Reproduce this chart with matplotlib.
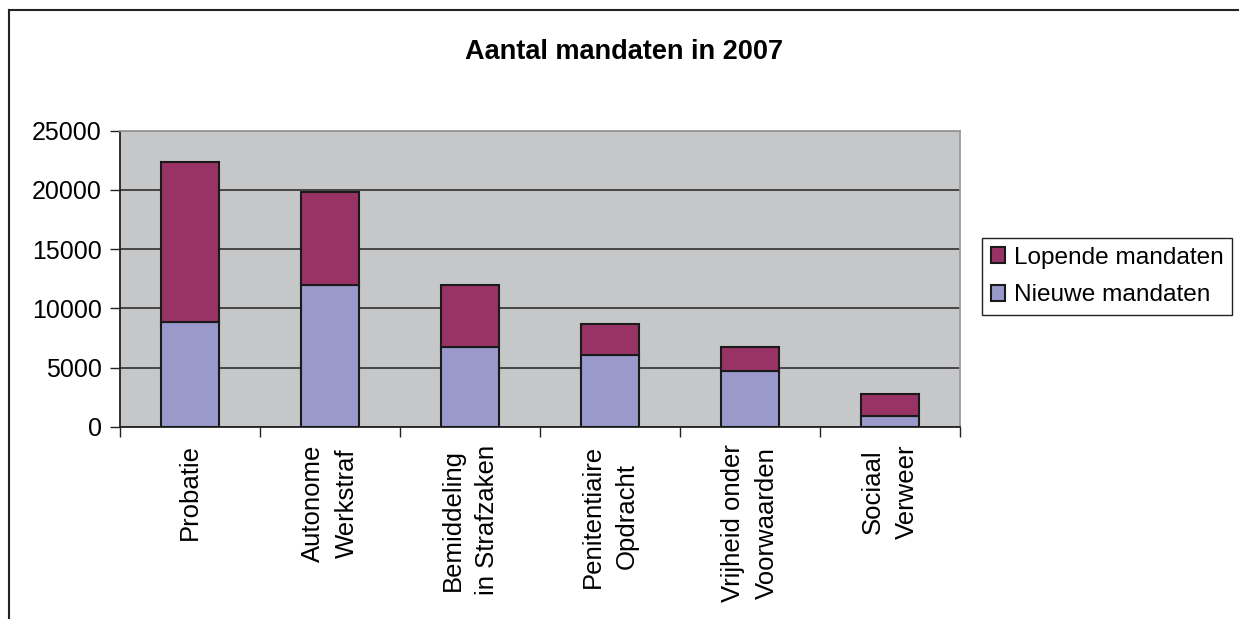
import matplotlib
matplotlib.use('Agg')
import matplotlib.pyplot as plt
import numpy as np
from matplotlib.lines import Line2D

plt.rcParams['font.family'] = ['Liberation Sans', 'DejaVu Sans']

# data
categories = ['Probatie', 'Autonome\nWerkstraf', 'Bemiddeling\nin Strafzaken',
              'Penitentiaire\nOpdracht', 'Vrijheid onder\nVoorwaarden', 'Sociaal\nVerweer']
nieuwe = [8870, 11970, 6710, 6030, 4730, 930]
lopende = [13460, 7880, 5260, 2670, 1980, 1810]
yticks = [0, 5000, 10000, 15000, 20000, 25000]

col_lop = '#993366'
col_nieuw = '#9999CC'

fig = plt.figure(figsize=(12.39, 6.19), dpi=100)
ax = fig.add_axes([120/1239, 1 - 426.7/619, 840/1239, 296/619])
ax.set_facecolor('#C6C7C9')

x = np.arange(len(categories))
b1 = ax.bar(x, nieuwe, width=0.41, color=col_nieuw, edgecolor='#1a1a1a', linewidth=1.5, zorder=3)
b2 = ax.bar(x, lopende, bottom=nieuwe, width=0.41, color=col_lop, edgecolor='#1a1a1a', linewidth=1.5, zorder=3)

ax.set_xlim(-0.5, len(categories) - 0.5)
ax.set_ylim(0, 25000)
ax.set_yticks(yticks)
ax.set_yticklabels([str(v) for v in yticks], fontsize=18)
ax.yaxis.grid(True, color='#222222', linewidth=1.1, zorder=1)
ax.set_axisbelow(True)

# category boundaries get the ticks, labels sit in between
ax.set_xticks(np.arange(len(categories) + 1) - 0.5)
ax.set_xticklabels([])
ax.tick_params(axis='x', direction='out', length=7, width=1, color='#222222')
ax.tick_params(axis='y', direction='out', length=7, width=1, color='#222222', pad=6)
for i, lab in enumerate(categories):
    ax.text(i, -1500, lab, rotation=90, ha='center', va='top', ma='center',
            fontsize=18.5, linespacing=1.55, transform=ax.transData, clip_on=False)

for s in ['left', 'bottom']:
    ax.spines[s].set_color('#222222')
    ax.spines[s].set_linewidth(1.3)
for s in ['top', 'right']:
    ax.spines[s].set_color('#9a9a9a')
    ax.spines[s].set_linewidth(1.3)

fig.text(624/1239, 1 - 52/619, 'Aantal mandaten in 2007', ha='center', va='center',
         fontsize=19.5, fontweight='bold')

leg = fig.legend([b2, b1], ['Lopende mandaten', 'Nieuwe mandaten'],
                 loc='upper left', bbox_to_anchor=(982/1239, 1 - 238/619),
                 fontsize=17.6, frameon=True, fancybox=False, framealpha=1,
                 edgecolor='#222222', handlelength=0.6, handleheight=0.6,
                 handletextpad=0.35, borderpad=0.35, labelspacing=0.65, borderaxespad=0)
leg.get_frame().set_linewidth(1)
leg._legend_box.sep = 4

# outer chart border (left and top visible only)
fig.add_artist(Line2D([9/1239, 9/1239], [0, 1 - 10/619], color='#222222', linewidth=1.5))
fig.add_artist(Line2D([9/1239, 1], [1 - 10/619, 1 - 10/619], color='#222222', linewidth=1.5))

fig.savefig('out.png', dpi=100)
